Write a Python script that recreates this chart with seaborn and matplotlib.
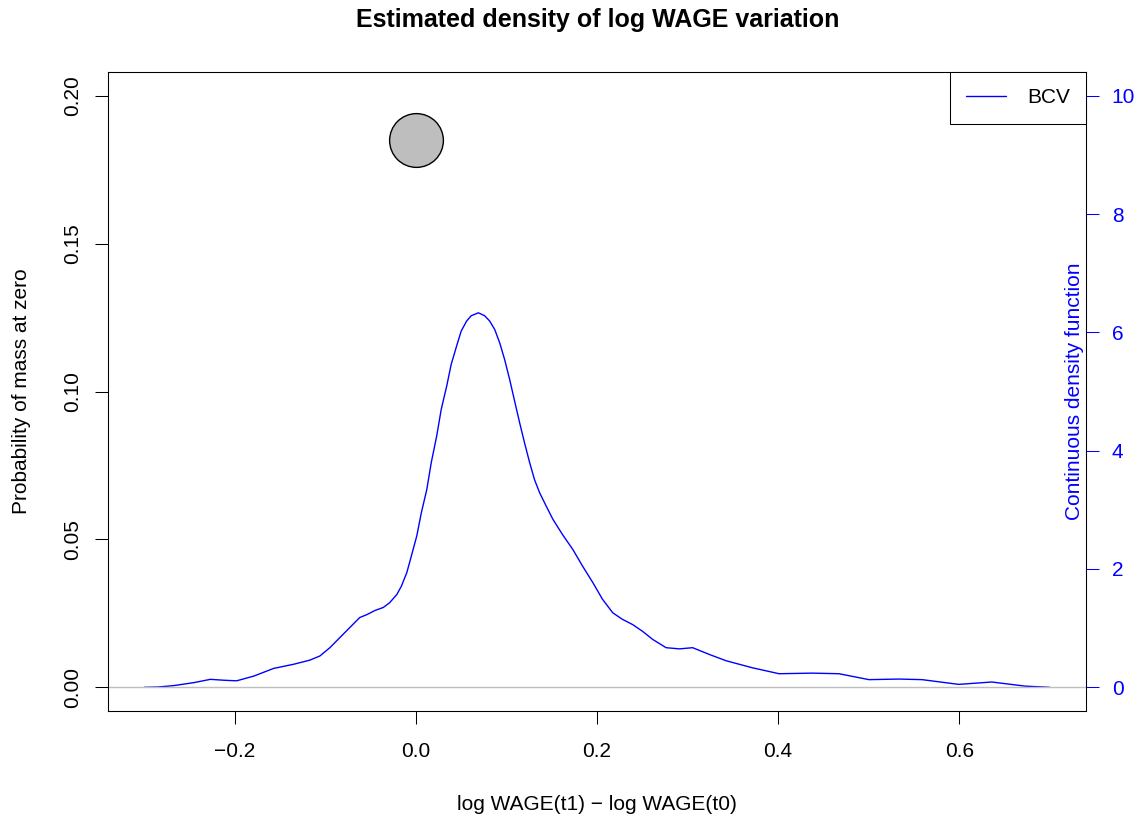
import numpy as np
import pandas as pd
import matplotlib
matplotlib.use("Agg")
import matplotlib.pyplot as plt
import seaborn as sns

# ---- data ----
x_vals = [-0.300, -0.285, -0.267, -0.245, -0.227, -0.212, -0.198, -0.179, -0.157,
          -0.135, -0.117, -0.106, -0.095, -0.084, -0.073, -0.062, -0.054, -0.045,
          -0.036, -0.029, -0.021, -0.016, -0.010, -0.005, 0.001, 0.006, 0.012,
          0.017, 0.023, 0.028, 0.034, 0.039, 0.045, 0.050, 0.056, 0.061, 0.069,
          0.076, 0.0815, 0.087, 0.0926, 0.098, 0.1036, 0.109, 0.1146, 0.120,
          0.1256, 0.131, 0.1366, 0.144, 0.1513, 0.162, 0.1733, 0.184, 0.1954,
          0.206, 0.2174, 0.228, 0.2394, 0.250, 0.2615, 0.2763, 0.2910, 0.3056,
          0.325, 0.3424, 0.3717, 0.4011, 0.4378, 0.4672, 0.5003, 0.5333, 0.559,
          0.5994, 0.636, 0.673, 0.700]
density_vals = [0.00, 0.005, 0.03, 0.08, 0.135, 0.12, 0.11, 0.19, 0.32,
                0.39, 0.46, 0.53, 0.67, 0.84, 1.01, 1.18, 1.23, 1.30,
                1.35, 1.43, 1.57, 1.71, 1.94, 2.22, 2.56, 2.95, 3.34,
                3.80, 4.25, 4.70, 5.09, 5.46, 5.77, 6.02, 6.19, 6.28, 6.33,
                6.28, 6.19, 6.05, 5.82, 5.54, 5.20, 4.84, 4.47, 4.13,
                3.80, 3.51, 3.29, 3.06, 2.84, 2.58, 2.33, 2.05, 1.77,
                1.49, 1.26, 1.15, 1.06, 0.95, 0.81, 0.67, 0.65, 0.67,
                0.55, 0.45, 0.33, 0.23, 0.24, 0.23, 0.13, 0.14, 0.13,
                0.05, 0.09, 0.02, 0.00]
mass_x = [0.0]
mass_prob = [0.185]
series_name = "BCV"
x_ticks = [-0.2, 0.0, 0.2, 0.4, 0.6]
x_tick_labels = ["\u22120.2", "0.0", "0.2", "0.4", "0.6"]
left_ticks = [0.00, 0.05, 0.10, 0.15, 0.20]
left_tick_labels = ["0.00", "0.05", "0.10", "0.15", "0.20"]
right_ticks = [0, 2, 4, 6, 8, 10]
right_tick_labels = ["0", "2", "4", "6", "8", "10"]

sns.set_style("white")
plt.rcParams['font.family'] = ['Liberation Sans', 'DejaVu Sans']
plt.rcParams['axes.linewidth'] = 0.75
plt.rcParams['text.color'] = 'black'
plt.rcParams['axes.labelcolor'] = 'black'
plt.rcParams['xtick.color'] = 'black'
plt.rcParams['ytick.color'] = 'black'

W, H = 1141, 819
fig = plt.figure(figsize=(W / 100, H / 100), dpi=100)
ax = fig.add_axes([108 / W, 1 - 711 / H, (1086 - 108) / W, (711 - 72) / H])
ax2 = ax.twinx()

# grey zero line
ax.axhline(0, color="#BEBEBE", lw=1.0, zorder=1)

# mass at zero point
mass_df = pd.DataFrame({"x": mass_x, "p": mass_prob})
sns.scatterplot(data=mass_df, x="x", y="p", ax=ax, s=1500, color="#BEBEBE",
                edgecolor="black", linewidth=1.0, zorder=3, legend=False)

# density curve
dens_df = pd.DataFrame({"x": x_vals, "d": density_vals, "method": series_name})
sns.lineplot(data=dens_df, x="x", y="d", hue="method", palette=["blue"], ax=ax2,
             lw=1.0, sort=False, estimator=None)

ax.set_xlim(-0.34, 0.74)
ax.set_ylim(-0.008, 0.208)
ax2.set_ylim(-0.4, 10.4)

for a in (ax, ax2):
    for s in a.spines.values():
        s.set_color("black")
        s.set_linewidth(0.75)
        s.set_visible(True)

ax2.spines["right"].set_color("blue")
ax2.spines["right"].set_bounds(0, 10)
ax.spines["right"].set_color("black")

ax.set_xticks(x_ticks)
ax.set_xticklabels(x_tick_labels, fontsize=15, color="black")
ax.set_yticks(left_ticks)
ax.set_yticklabels(left_tick_labels, fontsize=15, rotation=90, va="center",
                   color="black")
ax.tick_params(axis="both", direction="out", length=9.5, width=0.75, color="black",
               bottom=True, left=True)
ax.tick_params(axis="x", pad=13)
ax.tick_params(axis="y", pad=9)

ax2.set_yticks(right_ticks)
ax2.set_yticklabels(right_tick_labels, fontsize=15, color="blue")
ax2.tick_params(axis="y", direction="out", length=9.5, width=0.75, color="blue",
                right=True, pad=9)

ax.set_xlabel("log WAGE(t1) \u2212 log WAGE(t0)", fontsize=15, labelpad=24,
              color="black")
ax.set_ylabel("Probability of mass at zero", fontsize=15, labelpad=23,
              color="black")
ax2.set_ylabel("")
fig.text(1075 / W, 1 - 391 / H, "Continuous density function", rotation=90,
         color="blue", fontsize=15, ha="center", va="center")

fig.text(598 / W, 1 - 20 / H, "Estimated density of log WAGE variation",
         fontsize=18, fontweight="bold", ha="center", va="center", color="black")

leg = ax2.legend(loc="upper right", borderaxespad=0, fancybox=False, framealpha=1,
                 edgecolor="black", fontsize=15, handlelength=1.9,
                 handletextpad=1.0, borderpad=0.78)
leg.get_frame().set_linewidth(0.75)
for t in leg.get_texts():
    t.set_color("black")

ax.set_zorder(ax2.get_zorder() + 1)
ax.patch.set_visible(False)
ax2.set_zorder(0)
leg.remove()
ax.add_artist(leg)

fig.savefig("out.png", dpi=100, facecolor="white")
